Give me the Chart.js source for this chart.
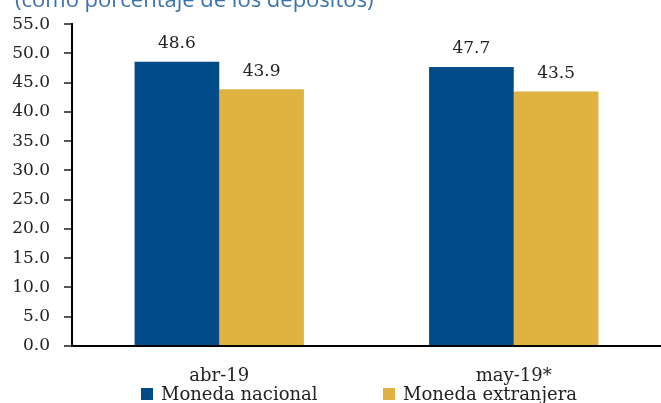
<!DOCTYPE html>
<html>
<head>
<meta charset="utf-8">
<script src="https://cdn.jsdelivr.net/npm/chart.js@4"></script>
<style>
  body { margin: 0; background: #fff; }
  #wrap { position: relative; width: 661px; height: 403px; overflow: hidden; }
  #subtitle {
    position: absolute; left: 15px; top: -13px; margin: 0;
    font: 22px/22px "Open Sans", sans-serif; color: #3a73ae; white-space: nowrap;
  }
  .leg { position: absolute; top: 384px; font: 18px/20px "DejaVu Serif", serif; color: #222; white-space: nowrap; }
  .leg span { display: inline-block; width: 12px; height: 12px; margin-right: 8px; vertical-align: 0px; }
</style>
</head>
<body>
<div id="wrap">
  <canvas id="chart" width="661" height="403"></canvas>
  <p id="subtitle">(como porcentaje de los depósitos)</p>
</div>
<script>
// data
const categories = ['abr-19', 'may-19*'];
const nacional = [48.6, 47.7];
const extranjera = [43.9, 43.5];
const seriesNames = ['Moneda nacional', 'Moneda extranjera'];
const yTicks = [0, 5, 10, 15, 20, 25, 30, 35, 40, 45, 50, 55];

const colors = ['#014c88', '#e0b241'];
const serif = 'DejaVu Serif';

// value labels over the bars
const barValues = {
  id: 'barValues',
  afterDatasetsDraw(chart) {
    const ctx = chart.ctx;
    ctx.save();
    ctx.font = '17px "' + serif + '"';
    ctx.fillStyle = '#222';
    ctx.textAlign = 'center';
    ctx.textBaseline = 'middle';
    chart.data.datasets.forEach((ds, i) => {
      chart.getDatasetMeta(i).data.forEach((bar, j) => {
        ctx.fillText(ds.data[j].toFixed(1), bar.x, bar.y - 18);
      });
    });
    ctx.restore();
  }
};

const chart = new Chart(document.getElementById('chart').getContext('2d'), {
  type: 'bar',
  data: {
    labels: categories,
    datasets: [
      { label: seriesNames[0], data: nacional, backgroundColor: colors[0] },
      { label: seriesNames[1], data: extranjera, backgroundColor: colors[1] }
    ]
  },
  options: {
    responsive: false,
    animation: false,
    devicePixelRatio: 1,
    layout: { padding: { top: 21, right: 0, bottom: 0, left: 0 } },
    datasets: { bar: { categoryPercentage: 0.575, barPercentage: 1.0 } },
    plugins: { legend: { display: false }, tooltip: { enabled: false } },
    scales: {
      x: {
        grid: { display: false, drawTicks: false },
        border: { color: '#000', width: 2 },
        ticks: { color: '#222', font: { family: serif, size: 18 }, padding: 20 },
        afterFit(scale) { scale.height = 57; }
      },
      y: {
        min: 0,
        max: 55,
        afterBuildTicks(scale) { scale.ticks = yTicks.map(v => ({ value: v })); },
        grid: { drawOnChartArea: false, tickLength: 8, color: '#555', lineWidth: 2 },
        border: { color: '#000', width: 2 },
        ticks: {
          color: '#222', font: { family: serif, size: 17 }, padding: 14,
          callback: v => Number(v).toFixed(1)
        },
        afterFit(scale) { scale.width = 72; }
      }
    }
  },
  plugins: [barValues]
});

// legend below the axis
const legLeft = [141, 383];
chart.data.datasets.forEach((ds, i) => {
  const item = document.createElement('div');
  item.className = 'leg';
  item.style.left = legLeft[i] + 'px';
  const box = document.createElement('span');
  box.style.background = ds.backgroundColor;
  item.appendChild(box);
  item.appendChild(document.createTextNode(ds.label));
  document.getElementById('wrap').appendChild(item);
});
</script>
</body>
</html>
